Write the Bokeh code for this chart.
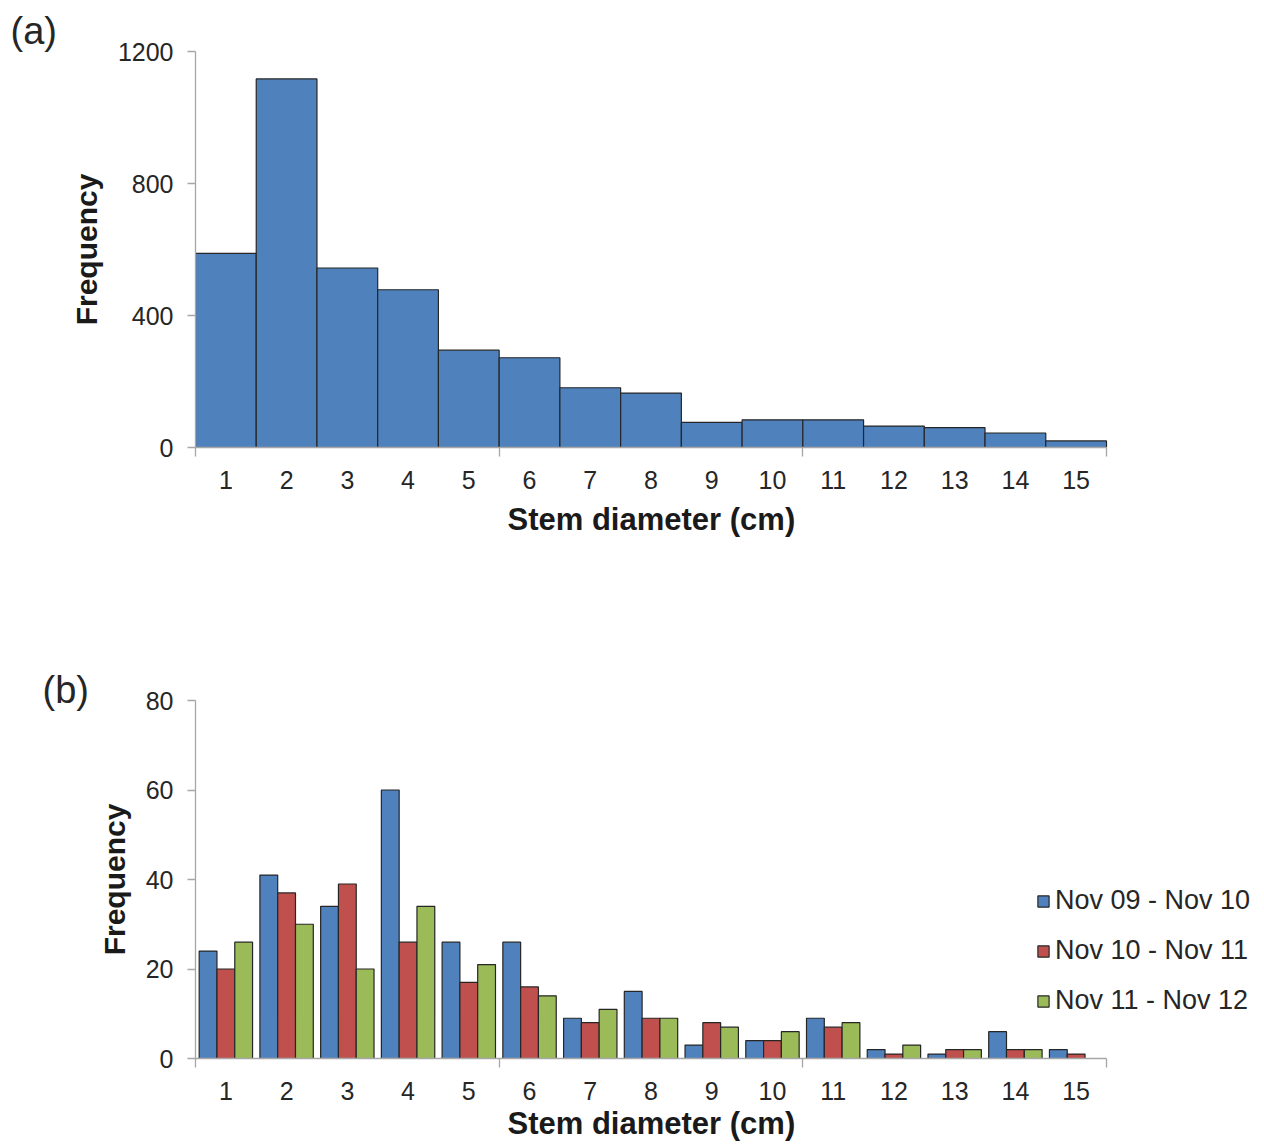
from bokeh.plotting import figure
from bokeh.layouts import column
from bokeh.models import ColumnDataSource, FixedTicker, Legend, LegendItem, Range1d, Title
from bokeh.transform import dodge
from bokeh.embed import file_html
from bokeh.resources import INLINE

# ---- data ----
diameters = [1, 2, 3, 4, 5, 6, 7, 8, 9, 10, 11, 12, 13, 14, 15]
freq_total = [588, 1117, 544, 478, 295, 272, 181, 165, 76, 84, 84, 65, 60, 44, 20]
series_names = ["Nov 09 - Nov 10", "Nov 10 - Nov 11", "Nov 11 - Nov 12"]
nov09_10 = [24, 41, 34, 60, 26, 26, 9, 15, 3, 4, 9, 2, 1, 6, 2]
nov10_11 = [20, 37, 39, 26, 17, 16, 8, 9, 8, 4, 7, 1, 2, 2, 1]
nov11_12 = [26, 30, 20, 34, 21, 14, 11, 9, 7, 6, 8, 3, 2, 2, 0]
yticks_a = [0, 400, 800, 1200]
yticks_b = [0, 20, 40, 60, 80]
x_title = "Stem diameter (cm)"
y_title = "Frequency"

FONT = "Liberation Sans"
BLUE, RED, GREEN = "#4F81BD", "#C0504D", "#9BBB59"
EDGE = "#262626"
AXIS = "#A6A6A6"
TXT = "#262626"
N = len(diameters)
XLO, XHI = diameters[0] - 0.5, diameters[-1] + 0.5

W = 1264
LEFT = 195
PX_PER_UNIT = 911 / N
X_END = XLO + (W - LEFT) / PX_PER_UNIT   # frame runs to the right edge; axis bounded to data


def style(p, yticks, title_standoff):
    p.outline_line_color = None
    p.xgrid.visible = False
    p.ygrid.visible = False
    for ax in (p.xaxis[0], p.yaxis[0]):
        ax.axis_line_color = AXIS
        ax.axis_line_width = 1.3
        ax.major_label_text_font = FONT
        ax.major_label_text_font_size = "25px"
        ax.major_label_text_color = TXT
        ax.axis_label_text_font = FONT
        ax.axis_label_text_font_size = "30px"
        ax.axis_label_text_font_style = "bold"
        ax.axis_label_text_color = "#1a1a1a"
    xa = p.xaxis[0]
    xa.ticker = FixedTicker(ticks=diameters, minor_ticks=[XLO, XLO + 5, XLO + 10, XHI])
    xa.bounds = (XLO, XHI)
    xa.major_tick_line_color = None
    xa.minor_tick_line_color = AXIS
    xa.minor_tick_line_width = 1.3
    xa.minor_tick_in = 0
    xa.minor_tick_out = 9
    xa.major_label_standoff = 14
    ya = p.yaxis[0]
    ya.ticker = FixedTicker(ticks=yticks)
    ya.major_tick_line_color = AXIS
    ya.major_tick_line_width = 1.3
    ya.major_tick_in = 0
    ya.major_tick_out = 8
    ya.minor_tick_line_color = None
    ya.major_label_standoff = 14
    ya.axis_label = y_title
    ya.axis_label_standoff = 12
    # x-axis title centred under the bounded axis (not under the wider frame)
    p.add_layout(Title(text=x_title, align="left", offset=312, vertical_align="top",
                       standoff=title_standoff,
                       text_font=FONT, text_font_size="31px", text_font_style="bold",
                       text_color="#1a1a1a"), "below")


# ---- panel (a) ----
pa = figure(width=W, height=560, output_backend="svg", toolbar_location=None,
            x_range=Range1d(XLO, X_END), y_range=Range1d(0, 1200),
            min_border_left=LEFT, min_border_right=0, min_border_top=51, min_border_bottom=113)
src_a = ColumnDataSource(dict(x=diameters, y=freq_total))
pa.vbar(x="x", top="y", width=1.0, bottom=0, source=src_a,
        fill_color=BLUE, line_color=EDGE, line_width=1.2)
style(pa, yticks_a, 20)
pa.add_layout(Title(text="(a)", align="left", offset=-185, standoff=0,
                    text_font=FONT, text_font_size="38px", text_font_style="normal",
                    text_color=TXT), "above")

# ---- panel (b) ----
pb = figure(width=W, height=586, output_backend="svg", toolbar_location=None,
            x_range=Range1d(XLO, X_END), y_range=Range1d(0, 80),
            min_border_left=LEFT, min_border_right=0, min_border_top=140, min_border_bottom=88)
src_b = ColumnDataSource(dict(x=diameters, a=nov09_10, b=nov10_11, c=nov11_12))
bw = 0.293
r1 = pb.vbar(x=dodge("x", -bw, range=pb.x_range), top="a", width=bw, source=src_b,
             fill_color=BLUE, line_color=EDGE, line_width=1.2)
r2 = pb.vbar(x=dodge("x", 0, range=pb.x_range), top="b", width=bw, source=src_b,
             fill_color=RED, line_color=EDGE, line_width=1.2)
r3 = pb.vbar(x=dodge("x", bw, range=pb.x_range), top="c", width=bw, source=src_b,
             fill_color=GREEN, line_color=EDGE, line_width=1.2)
style(pb, yticks_b, 6)
legend = Legend(items=[LegendItem(label=series_names[0], renderers=[r1]),
                       LegendItem(label=series_names[1], renderers=[r2]),
                       LegendItem(label=series_names[2], renderers=[r3])],
                location=(841, 42), orientation="vertical",
                label_text_font=FONT, label_text_font_size="27px", label_text_color=TXT,
                glyph_width=14, glyph_height=14, label_standoff=5,
                label_height=30, spacing=19, padding=0, margin=0,
                border_line_color=None, background_fill_alpha=0)
pb.add_layout(legend, "center")
pb.add_layout(Title(text="(b)", align="left", offset=-153, standoff=-21,
                    text_font=FONT, text_font_size="38px", text_font_style="normal",
                    text_color=TXT), "above")

layout = column(pa, pb, spacing=0)
open("out.html", "w").write(file_html(layout, INLINE))
